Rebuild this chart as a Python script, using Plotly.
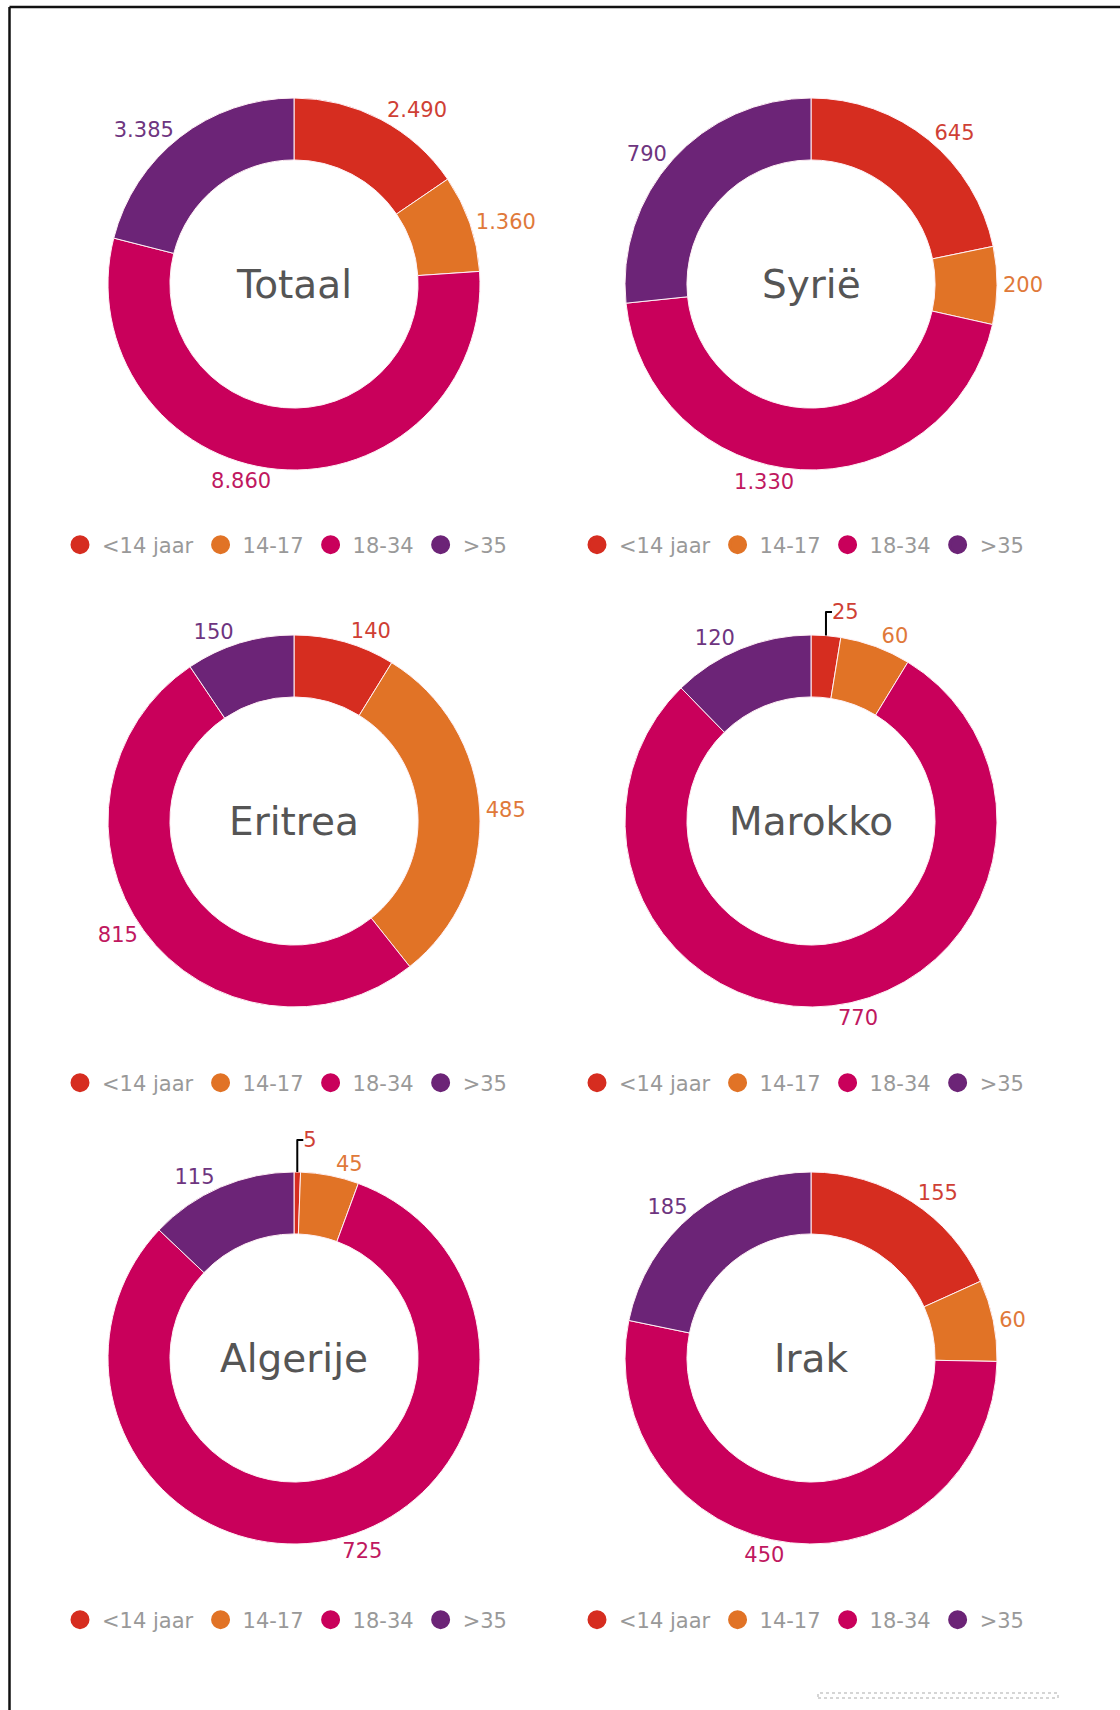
import plotly.graph_objects as go

W, H = 1120, 1710

age_groups = ["<14 jaar", "14-17", "18-34", ">35"]
colors = ["#D62D20", "#E17326", "#C9005B", "#6C2477"]
label_colors = ["#CF3F35", "#E0793A", "#C0185F", "#6E3580"]

countries = ["Totaal", "Syrië", "Eritrea", "Marokko", "Algerije", "Irak"]
totaal = [2490, 1360, 8860, 3385]
syrie = [645, 200, 1330, 790]
eritrea = [140, 485, 815, 150]
marokko = [25, 60, 770, 120]
algerije = [5, 45, 725, 115]
irak = [155, 60, 450, 185]
series = [totaal, syrie, eritrea, marokko, algerije, irak]

# layout in pixels
col_cx = [294, 811]
row_cy = [284, 821, 1358]
R = 186
legend_y = [545, 1083, 1620]
legend_dx = -9

FONT = "DejaVu Sans"

fig = go.Figure()
annotations = []
layout_legends = {}

for i, (name, vals) in enumerate(zip(countries, series)):
    r, c = divmod(i, 2)
    cx, cy = col_cx[c], row_cy[r]
    legname = "legend" if i == 0 else f"legend{i+1}"
    fig.add_trace(go.Pie(
        labels=age_groups, values=vals, sort=False, direction="clockwise",
        rotation=0, hole=0.667,
        marker=dict(colors=colors, line=dict(color="#FFF0F5", width=1)),
        textposition="outside", texttemplate="%{value:,}",
        textfont=dict(color=label_colors, size=21, family=FONT),
        outsidetextfont=dict(color=label_colors, size=21, family=FONT),
        domain=dict(x=[(cx - R) / W, (cx + R) / W], y=[1 - (cy + R) / H, 1 - (cy - R) / H]),
        showlegend=False, hoverinfo="label+value",
    ))
    annotations.append(dict(
        text=name, x=cx / W, y=1 - cy / H, xref="paper", yref="paper",
        showarrow=False, font=dict(size=39, color="#555555", family=FONT),
        xanchor="center", yanchor="middle",
    ))
    for g, col in zip(age_groups, colors):
        fig.add_trace(go.Scatter(
            x=[None], y=[None], mode="markers", name=g,
            marker=dict(color=col, size=16, symbol="circle", line=dict(color=col, width=3)),
            legend=legname, showlegend=True, hoverinfo="skip",
        ))
    layout_legends[legname] = dict(
        orientation="h", x=(cx + legend_dx) / W, y=1 - legend_y[r] / H,
        xanchor="center", yanchor="middle",
        font=dict(size=21, color="#999999", family=FONT),
        bgcolor="rgba(0,0,0,0)", itemsizing="trace", itemwidth=34, tracegroupgap=0,
    )

shapes = [
    # screenshot frame (top and left border)
    dict(type="line", xref="paper", yref="paper", x0=9.5 / W, x1=1, y0=1 - 7 / H, y1=1 - 7 / H,
         line=dict(color="#111111", width=2.5)),
    dict(type="line", xref="paper", yref="paper", x0=9.5 / W, x1=9.5 / W, y0=0, y1=1 - 7 / H,
         line=dict(color="#111111", width=2.5)),
    dict(type="rect", xref="paper", yref="paper", x0=818 / W, x1=1058 / W, y0=1 - 1698 / H, y1=1 - 1693 / H,
         line=dict(color="#C8C8C8", width=1.5, dash="dot")),
]

fig.update_layout(
    width=W, height=H, margin=dict(l=0, r=0, t=0, b=0),
    paper_bgcolor="white", plot_bgcolor="white",
    separators=",.",
    font=dict(family=FONT, color="#CF3F35"),
    xaxis=dict(visible=False), yaxis=dict(visible=False),
    annotations=annotations, shapes=shapes,
    **layout_legends,
)

fig.write_html("out.html", config={"displayModeBar": False},
               post_script="document.body.style.margin='0px';")
